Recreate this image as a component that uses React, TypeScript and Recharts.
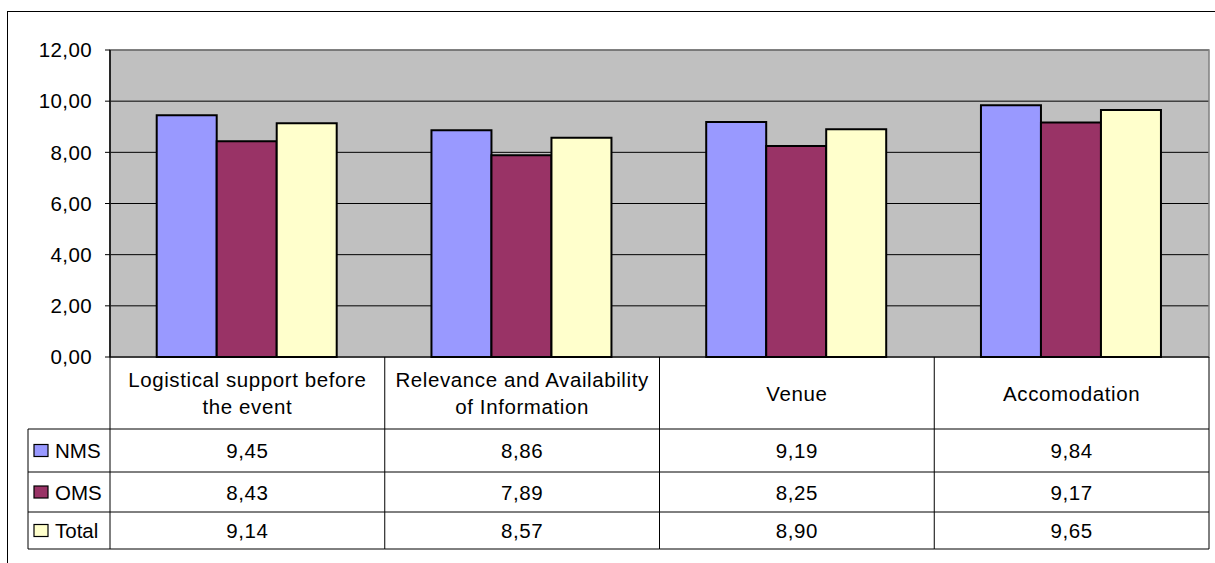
import React from 'react';
import { BarChart, Bar, XAxis, YAxis, CartesianGrid, ReferenceArea } from 'recharts';

const categories = [
  'Logistical support before the event',
  'Relevance and Availability of Information',
  'Venue',
  'Accomodation',
];
const nmsValues = [9.45, 8.86, 9.19, 9.84];
const omsValues = [8.43, 7.89, 8.25, 9.17];
const totalValues = [9.14, 8.57, 8.9, 9.65];
const seriesNames = ['NMS', 'OMS', 'Total'];
const seriesColors = ['#9999FF', '#993366', '#FFFFCC'];
const yTicks = [0, 2, 4, 6, 8, 10, 12];

const data = categories.map((name, i) => ({
  name,
  NMS: nmsValues[i],
  OMS: omsValues[i],
  Total: totalValues[i],
}));
const seriesValues = [nmsValues, omsValues, totalValues];

const W = 1215;
const H = 563;
const PLOT_LEFT = 110;
const PLOT_RIGHT = 1209;
const PLOT_BOTTOM = 357;
const COL_W = (PLOT_RIGHT - PLOT_LEFT) / categories.length;
const LEGEND_LEFT = 28;
const ROW_LINES = [429, 472, 512, 549];
const FONT = '"Liberation Sans", Arial, sans-serif';

const fmt = (v: number) => v.toFixed(2).replace('.', ',');

const wrap = (s: string, max = 26) => {
  const lines: string[] = [];
  let cur = '';
  s.split(' ').forEach((w) => {
    const next = cur ? cur + ' ' + w : w;
    if (next.length > max && cur) {
      lines.push(cur);
      cur = w;
    } else cur = next;
  });
  if (cur) lines.push(cur);
  return lines;
};

const textStyle = { fontFamily: FONT, fontSize: 20.5, letterSpacing: 0.6 };

const TableTick = (props: any) => {
  const { x, payload } = props;
  const idx = payload.index;
  const left = x - COL_W / 2;
  const right = x + COL_W / 2;
  const lines = wrap(String(payload.value));
  const headerMid = (PLOT_BOTTOM + ROW_LINES[0]) / 2;
  return (
    <g>
      {lines.map((l, i) => (
        <text
          key={i}
          x={x}
          y={headerMid - ((lines.length - 1) * 27) / 2 + i * 27}
          textAnchor="middle"
          dominantBaseline="central"
          fill="#000"
          style={textStyle}
        >
          {l}
        </text>
      ))}
      <line x1={right} y1={PLOT_BOTTOM} x2={right} y2={ROW_LINES[3]} stroke="#000" strokeWidth={1} />
      {ROW_LINES.map((y) => (
        <line key={y} x1={left} y1={y} x2={right} y2={y} stroke="#000" strokeWidth={1} />
      ))}
      {seriesValues.map((vals, r) => (
        <text
          key={r}
          x={x}
          y={(ROW_LINES[r] + ROW_LINES[r + 1]) / 2}
          textAnchor="middle"
          dominantBaseline="central"
          fill="#000"
          style={textStyle}
        >
          {fmt(vals[idx])}
        </text>
      ))}
      {idx === 0 && (
        <g>
          <line x1={left} y1={PLOT_BOTTOM} x2={left} y2={ROW_LINES[3]} stroke="#000" strokeWidth={1} />
          <line x1={LEGEND_LEFT} y1={ROW_LINES[0]} x2={LEGEND_LEFT} y2={ROW_LINES[3]} stroke="#000" strokeWidth={1} />
          {ROW_LINES.map((y) => (
            <line key={y} x1={LEGEND_LEFT} y1={y} x2={left} y2={y} stroke="#000" strokeWidth={1} />
          ))}
          {seriesNames.map((n, r) => {
            const cy = (ROW_LINES[r] + ROW_LINES[r + 1]) / 2;
            return (
              <g key={n}>
                <rect x={34} y={cy - 6} width={14} height={12} fill={seriesColors[r]} stroke="#000" strokeWidth={1.2} />
                <text x={55} y={cy} dominantBaseline="central" fill="#000" style={{ ...textStyle, letterSpacing: 0 }}>
                  {n}
                </text>
              </g>
            );
          })}
        </g>
      )}
    </g>
  );
};

export default function App() {
  return (
    <div style={{ position: 'absolute', left: 0, top: 0, width: W, height: H, overflow: 'hidden', background: '#fff' }}>
      <div
        style={{
          position: 'absolute',
          left: 7,
          top: 11,
          width: W + 20,
          height: H + 20,
          border: '1.5px solid #000',
        }}
      />
      <div style={{ position: 'absolute', left: 0, top: 0 }}>
        <BarChart
          width={W}
          height={H}
          data={data}
          margin={{ top: 50, right: W - PLOT_RIGHT, left: 0, bottom: 0 }}
          barGap={0}
          barCategoryGap="17%"
        >
          <CartesianGrid fill="#C0C0C0" stroke="#000" vertical={false} fillOpacity={1} />
          <ReferenceArea y1={0} y2={12} fill="none" stroke="#808080" strokeWidth={1.5} ifOverflow="visible" />
          <YAxis
            width={PLOT_LEFT}
            domain={[0, 12]}
            ticks={yTicks}
            interval={0}
            tickFormatter={fmt}
            axisLine={{ stroke: '#000', strokeWidth: 1.5 }}
            tickLine={{ stroke: '#000' }}
            tickSize={5}
            tickMargin={13}
            tick={{ fill: '#000', fontSize: 20.5, fontFamily: FONT, letterSpacing: 0.4 }}
          />
          <XAxis
            dataKey="name"
            height={H - PLOT_BOTTOM}
            interval={0}
            tickLine={false}
            axisLine={{ stroke: '#000', strokeWidth: 1 }}
            tick={(p: any) => <TableTick {...p} />}
          />
          {seriesNames.map((n, i) => (
            <Bar key={n} dataKey={n} fill={seriesColors[i]} stroke="#000" strokeWidth={2} isAnimationActive={false} />
          ))}
        </BarChart>
      </div>
    </div>
  );
}
